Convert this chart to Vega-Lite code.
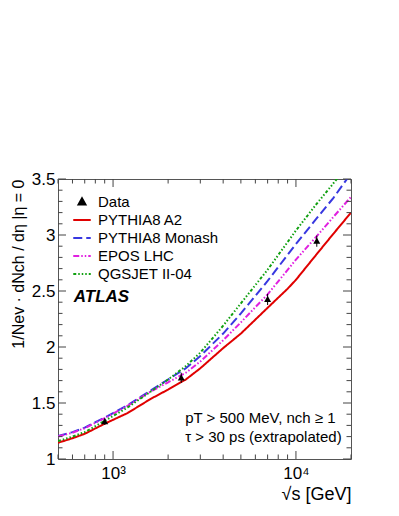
{
  "$schema": "https://vega.github.io/schema/vega-lite/v6.json",
  "width": 293,
  "height": 280,
  "autosize": {"type": "none"},
  "padding": {"left": 58, "top": 179, "right": 48, "bottom": 57},
  "background": "white",
  "config": {
    "font": "Liberation Sans",
    "view": {"stroke": "#555", "strokeWidth": 1},
    "axis": {"grid": false, "domain": false, "ticks": false, "labelColor": "black", "titleColor": "black", "labelFont": "Liberation Sans", "titleFont": "Liberation Sans"},
    "legend": {"orient": "none", "legendX": 14, "legendY": 13, "title": null, "labelFontSize": 15, "labelFont": "Liberation Sans", "labelColor": "black", "labelOffset": 6, "symbolSize": 306, "symbolStrokeWidth": 2, "rowPadding": 0}
  },
  "datasets": {
    "curves": [
      {"series": "PYTHIA8 A2", "s": 500, "v": 1.145},
      {"series": "PYTHIA8 A2", "s": 600, "v": 1.185},
      {"series": "PYTHIA8 A2", "s": 700, "v": 1.225},
      {"series": "PYTHIA8 A2", "s": 900, "v": 1.315},
      {"series": "PYTHIA8 A2", "s": 1200, "v": 1.41},
      {"series": "PYTHIA8 A2", "s": 1600, "v": 1.535},
      {"series": "PYTHIA8 A2", "s": 2000, "v": 1.62},
      {"series": "PYTHIA8 A2", "s": 2500, "v": 1.71},
      {"series": "PYTHIA8 A2", "s": 3000, "v": 1.81},
      {"series": "PYTHIA8 A2", "s": 4000, "v": 1.99},
      {"series": "PYTHIA8 A2", "s": 5000, "v": 2.12},
      {"series": "PYTHIA8 A2", "s": 7000, "v": 2.35},
      {"series": "PYTHIA8 A2", "s": 9000, "v": 2.52},
      {"series": "PYTHIA8 A2", "s": 10000, "v": 2.6},
      {"series": "PYTHIA8 A2", "s": 13000, "v": 2.83},
      {"series": "PYTHIA8 A2", "s": 16000, "v": 3.01},
      {"series": "PYTHIA8 A2", "s": 20000, "v": 3.2},
      {"series": "PYTHIA8 Monash", "s": 500, "v": 1.205},
      {"series": "PYTHIA8 Monash", "s": 600, "v": 1.24},
      {"series": "PYTHIA8 Monash", "s": 700, "v": 1.28},
      {"series": "PYTHIA8 Monash", "s": 900, "v": 1.37},
      {"series": "PYTHIA8 Monash", "s": 1200, "v": 1.48},
      {"series": "PYTHIA8 Monash", "s": 1600, "v": 1.61},
      {"series": "PYTHIA8 Monash", "s": 2000, "v": 1.71},
      {"series": "PYTHIA8 Monash", "s": 2500, "v": 1.81},
      {"series": "PYTHIA8 Monash", "s": 3000, "v": 1.92},
      {"series": "PYTHIA8 Monash", "s": 4000, "v": 2.12},
      {"series": "PYTHIA8 Monash", "s": 5000, "v": 2.3},
      {"series": "PYTHIA8 Monash", "s": 7000, "v": 2.59},
      {"series": "PYTHIA8 Monash", "s": 10000, "v": 2.92},
      {"series": "PYTHIA8 Monash", "s": 13000, "v": 3.15},
      {"series": "PYTHIA8 Monash", "s": 16000, "v": 3.33},
      {"series": "PYTHIA8 Monash", "s": 20000, "v": 3.55},
      {"series": "EPOS LHC", "s": 500, "v": 1.2},
      {"series": "EPOS LHC", "s": 600, "v": 1.235},
      {"series": "EPOS LHC", "s": 700, "v": 1.275},
      {"series": "EPOS LHC", "s": 900, "v": 1.365},
      {"series": "EPOS LHC", "s": 1200, "v": 1.475},
      {"series": "EPOS LHC", "s": 1600, "v": 1.6},
      {"series": "EPOS LHC", "s": 2000, "v": 1.685},
      {"series": "EPOS LHC", "s": 2500, "v": 1.77},
      {"series": "EPOS LHC", "s": 3000, "v": 1.87},
      {"series": "EPOS LHC", "s": 4000, "v": 2.06},
      {"series": "EPOS LHC", "s": 5000, "v": 2.22},
      {"series": "EPOS LHC", "s": 7000, "v": 2.47},
      {"series": "EPOS LHC", "s": 10000, "v": 2.78},
      {"series": "EPOS LHC", "s": 13000, "v": 2.99},
      {"series": "EPOS LHC", "s": 16000, "v": 3.16},
      {"series": "EPOS LHC", "s": 20000, "v": 3.34},
      {"series": "QGSJET II-04", "s": 500, "v": 1.16},
      {"series": "QGSJET II-04", "s": 600, "v": 1.2},
      {"series": "QGSJET II-04", "s": 700, "v": 1.24},
      {"series": "QGSJET II-04", "s": 900, "v": 1.34},
      {"series": "QGSJET II-04", "s": 1200, "v": 1.46},
      {"series": "QGSJET II-04", "s": 1600, "v": 1.6},
      {"series": "QGSJET II-04", "s": 2000, "v": 1.71},
      {"series": "QGSJET II-04", "s": 2500, "v": 1.83},
      {"series": "QGSJET II-04", "s": 3000, "v": 1.95},
      {"series": "QGSJET II-04", "s": 4000, "v": 2.19},
      {"series": "QGSJET II-04", "s": 5000, "v": 2.39},
      {"series": "QGSJET II-04", "s": 7000, "v": 2.69},
      {"series": "QGSJET II-04", "s": 10000, "v": 3.04},
      {"series": "QGSJET II-04", "s": 13000, "v": 3.28},
      {"series": "QGSJET II-04", "s": 16000, "v": 3.46},
      {"series": "QGSJET II-04", "s": 20000, "v": 3.66}
    ],
    "points": [
      {"series": "Data", "s": 900, "v": 1.333, "lo": 1.305, "hi": 1.361},
      {"series": "Data", "s": 2360, "v": 1.725, "lo": 1.68, "hi": 1.77},
      {"series": "Data", "s": 7000, "v": 2.425, "lo": 2.375, "hi": 2.475},
      {"series": "Data", "s": 13000, "v": 2.945, "lo": 2.895, "hi": 2.995}
    ],
    "xticks": [
      {"s": 500, "kind": "minor"}, {"s": 600, "kind": "minor"}, {"s": 700, "kind": "minor"}, {"s": 800, "kind": "minor"}, {"s": 900, "kind": "minor"},
      {"s": 1000, "kind": "major"},
      {"s": 2000, "kind": "minor"}, {"s": 3000, "kind": "minor"}, {"s": 4000, "kind": "minor"}, {"s": 5000, "kind": "minor"}, {"s": 6000, "kind": "minor"}, {"s": 7000, "kind": "minor"}, {"s": 8000, "kind": "minor"}, {"s": 9000, "kind": "minor"},
      {"s": 10000, "kind": "major"},
      {"s": 20000, "kind": "minor"}
    ],
    "yticks": [
      {"v": 1, "kind": "major"}, {"v": 1.1, "kind": "minor"}, {"v": 1.2, "kind": "minor"}, {"v": 1.3, "kind": "minor"}, {"v": 1.4, "kind": "minor"},
      {"v": 1.5, "kind": "major"}, {"v": 1.6, "kind": "minor"}, {"v": 1.7, "kind": "minor"}, {"v": 1.8, "kind": "minor"}, {"v": 1.9, "kind": "minor"},
      {"v": 2, "kind": "major"}, {"v": 2.1, "kind": "minor"}, {"v": 2.2, "kind": "minor"}, {"v": 2.3, "kind": "minor"}, {"v": 2.4, "kind": "minor"},
      {"v": 2.5, "kind": "major"}, {"v": 2.6, "kind": "minor"}, {"v": 2.7, "kind": "minor"}, {"v": 2.8, "kind": "minor"}, {"v": 2.9, "kind": "minor"},
      {"v": 3, "kind": "major"}, {"v": 3.1, "kind": "minor"}, {"v": 3.2, "kind": "minor"}, {"v": 3.3, "kind": "minor"}, {"v": 3.4, "kind": "minor"},
      {"v": 3.5, "kind": "major"}
    ]
  },
  "layer": [
    {
      "data": {"name": "curves"},
      "mark": {"type": "line", "strokeWidth": 2, "clip": true},
      "encoding": {
        "x": {
          "field": "s", "type": "quantitative",
          "scale": {"type": "log", "domain": [500, 20000], "nice": false},
          "axis": {"orient": "bottom", "values": [1000, 10000],
            "labelExpr": "datum.value == 1000 ? '10³' : '10⁴'",
            "labelFontSize": 17, "labelPadding": 6, "labelFlush": false,
            "title": "√s [GeV]", "titleAnchor": "end", "titleFontSize": 18, "titleFontWeight": "normal", "titlePadding": 4}
        },
        "y": {
          "field": "v", "type": "quantitative",
          "scale": {"domain": [1, 3.5], "nice": false, "zero": false},
          "axis": {"orient": "left", "values": [1, 1.5, 2, 2.5, 3, 3.5], "format": "~g",
            "labelFontSize": 17, "labelPadding": 3, "labelFlush": false,
            "title": "1/Nev · dNch / dη |η = 0", "titleAnchor": "end", "titleFontSize": 16, "titleFontWeight": "normal", "titlePadding": 5}
        },
        "color": {
          "field": "series", "type": "nominal",
          "scale": {"domain": ["Data", "PYTHIA8 A2", "PYTHIA8 Monash", "EPOS LHC", "QGSJET II-04"], "range": ["black", "#e00000", "#3838e0", "#e020e0", "#10a010"]}
        },
        "strokeDash": {
          "field": "series", "type": "nominal",
          "scale": {"domain": ["Data", "PYTHIA8 A2", "PYTHIA8 Monash", "EPOS LHC", "QGSJET II-04"], "range": [[1, 0], [1, 0], [9, 4], [6, 2, 1.5, 2, 1.5, 2], [3, 2, 1.5, 2, 1.5, 2, 1.5, 2]]}
        }
      }
    },
    {
      "data": {"name": "xticks"},
      "transform": [{"filter": "datum.kind == 'major'"}],
      "mark": {"type": "rule", "color": "#444", "strokeWidth": 1, "y2Offset": -8},
      "encoding": {"x": {"field": "s", "type": "quantitative"}, "y": {"datum": 1, "type": "quantitative"}, "y2": {"datum": 1}}
    },
    {
      "data": {"name": "xticks"},
      "transform": [{"filter": "datum.kind == 'minor'"}],
      "mark": {"type": "rule", "color": "#444", "strokeWidth": 1, "y2Offset": -4.5},
      "encoding": {"x": {"field": "s", "type": "quantitative"}, "y": {"datum": 1, "type": "quantitative"}, "y2": {"datum": 1}}
    },
    {
      "data": {"name": "xticks"},
      "transform": [{"filter": "datum.kind == 'major'"}],
      "mark": {"type": "rule", "color": "#444", "strokeWidth": 1, "y2Offset": 8},
      "encoding": {"x": {"field": "s", "type": "quantitative"}, "y": {"datum": 3.5, "type": "quantitative"}, "y2": {"datum": 3.5}}
    },
    {
      "data": {"name": "xticks"},
      "transform": [{"filter": "datum.kind == 'minor'"}],
      "mark": {"type": "rule", "color": "#444", "strokeWidth": 1, "y2Offset": 4.5},
      "encoding": {"x": {"field": "s", "type": "quantitative"}, "y": {"datum": 3.5, "type": "quantitative"}, "y2": {"datum": 3.5}}
    },
    {
      "data": {"name": "yticks"},
      "transform": [{"filter": "datum.kind == 'major'"}],
      "mark": {"type": "rule", "color": "#444", "strokeWidth": 1, "x2Offset": 8},
      "encoding": {"y": {"field": "v", "type": "quantitative"}, "x": {"datum": 500, "type": "quantitative"}, "x2": {"datum": 500}}
    },
    {
      "data": {"name": "yticks"},
      "transform": [{"filter": "datum.kind == 'minor'"}],
      "mark": {"type": "rule", "color": "#444", "strokeWidth": 1, "x2Offset": 4.5},
      "encoding": {"y": {"field": "v", "type": "quantitative"}, "x": {"datum": 500, "type": "quantitative"}, "x2": {"datum": 500}}
    },
    {
      "data": {"name": "yticks"},
      "transform": [{"filter": "datum.kind == 'major'"}],
      "mark": {"type": "rule", "color": "#444", "strokeWidth": 1, "x2Offset": -8},
      "encoding": {"y": {"field": "v", "type": "quantitative"}, "x": {"datum": 20000, "type": "quantitative"}, "x2": {"datum": 20000}}
    },
    {
      "data": {"name": "yticks"},
      "transform": [{"filter": "datum.kind == 'minor'"}],
      "mark": {"type": "rule", "color": "#444", "strokeWidth": 1, "x2Offset": -4.5},
      "encoding": {"y": {"field": "v", "type": "quantitative"}, "x": {"datum": 20000, "type": "quantitative"}, "x2": {"datum": 20000}}
    },
    {
      "data": {"name": "points"},
      "mark": {"type": "rule", "color": "black", "strokeWidth": 1},
      "encoding": {
        "x": {"field": "s", "type": "quantitative"},
        "y": {"field": "lo", "type": "quantitative"},
        "y2": {"field": "hi"}
      }
    },
    {
      "data": {"name": "points"},
      "mark": {"type": "point", "filled": true, "size": 306, "opacity": 1, "strokeWidth": 0},
      "encoding": {
        "x": {"field": "s", "type": "quantitative"},
        "y": {"field": "v", "type": "quantitative"},
        "color": {"field": "series", "type": "nominal"},
        "shape": {
          "field": "series", "type": "nominal",
          "scale": {"domain": ["Data", "PYTHIA8 A2", "PYTHIA8 Monash", "EPOS LHC", "QGSJET II-04"], "range": ["M0,-0.42L0.4,0.3L-0.4,0.3Z", "stroke", "stroke", "stroke", "stroke"]}
        }
      }
    },
    {
      "data": {"values": [{"label": "ATLAS"}]},
      "mark": {"type": "text", "font": "Liberation Sans", "fontWeight": "bold", "fontStyle": "italic", "fontSize": 17, "align": "left", "baseline": "alphabetic", "color": "black"},
      "encoding": {
        "text": {"field": "label", "type": "nominal"},
        "x": {"datum": 610, "type": "quantitative"},
        "y": {"datum": 2.4, "type": "quantitative"}
      }
    },
    {
      "data": {"values": [{"label": "pT > 500 MeV, nch ≥ 1"}]},
      "mark": {"type": "text", "font": "Liberation Sans", "fontSize": 15, "align": "left", "baseline": "alphabetic", "color": "black"},
      "encoding": {
        "text": {"field": "label", "type": "nominal"},
        "x": {"datum": 2480, "type": "quantitative"},
        "y": {"datum": 1.32, "type": "quantitative"}
      }
    },
    {
      "data": {"values": [{"label": "τ > 30 ps (extrapolated)"}]},
      "mark": {"type": "text", "font": "Liberation Sans", "fontSize": 15, "align": "left", "baseline": "alphabetic", "color": "black"},
      "encoding": {
        "text": {"field": "label", "type": "nominal"},
        "x": {"datum": 2480, "type": "quantitative"},
        "y": {"datum": 1.155, "type": "quantitative"}
      }
    }
  ]
}
